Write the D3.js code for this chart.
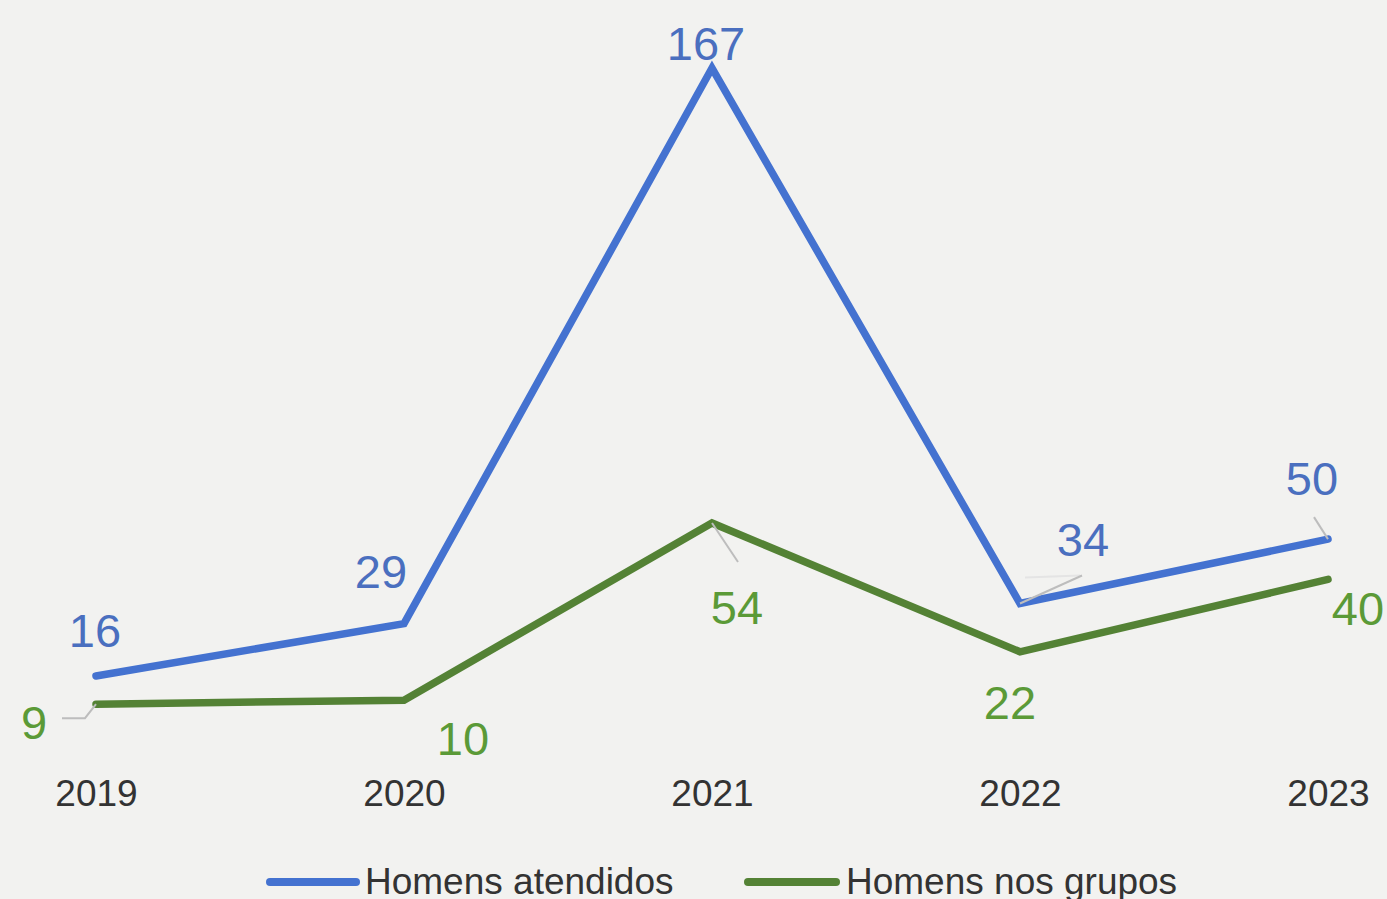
<!DOCTYPE html>
<html>
<head>
<meta charset="utf-8">
<script src="https://cdn.jsdelivr.net/npm/d3@7"></script>
<style>
  html, body { margin: 0; padding: 0; background: #f2f2f0; overflow: hidden; }
  svg { display: block; }
</style>
</head>
<body>
<svg id="chart" width="1387" height="899"></svg>
<script>
const years = ["2019", "2020", "2021", "2022", "2023"];
const atendidos = [16, 29, 167, 34, 50];
const grupos = [9, 10, 54, 22, 40];
const seriesNames = ["Homens atendidos", "Homens nos grupos"];

// label placement (pixel offsets from the point) and leader lines
const blueLabelOffsets = [[-1, -29], [-23, -36], [-6, -8], [63, -48], [-16, -44]];
const greenLabelOffsets = [[-62, 35], [59, 55], [25, 101], [-10, 67], [30, 46]];
const blueLeaders = [null, null, null, [[0, 0], [62, -28]], [[0, 0], [-14, -22]]];
const greenLeaders = [[[0, 0], [-11, 14], [-34, 14]], null, [[0, 0], [26, 39]], null, null];

const W = 1387, H = 899;
const svg = d3.select("#chart");
svg.append("rect").attr("width", W).attr("height", H).attr("fill", "#f2f2f0");

const x = d3.scalePoint().domain(years).range([96, 1328]);
const y = d3.scaleLinear().domain([0, 180]).range([740.4, 15.7]);

const FONT = "'Liberation Sans', Arial, sans-serif";
const blueLine = "#4472d0", greenLine = "#548235";
const blueText = "#4a6fbf", greenText = "#5b9a37";

// x axis labels
const xAxis = d3.axisBottom(x).tickSize(0).tickPadding(0);
const gx = svg.append("g").attr("transform", "translate(0,772)").call(xAxis);
gx.select(".domain").remove();
gx.selectAll("text")
  .attr("font-family", FONT).attr("font-size", 37).attr("fill", "#333")
  .attr("dy", "0.92em");

const line = d3.line().x((d, i) => x(years[i])).y(d => y(d));

function drawSeries(vals, color, textColor, offsets, leaders) {
  const g = svg.append("g");
  g.append("path").datum(vals)
    .attr("d", line).attr("fill", "none")
    .attr("stroke", color).attr("stroke-width", 7.5)
    .attr("stroke-linejoin", "miter").attr("stroke-linecap", "round");
  vals.forEach((v, i) => {
    const px = x(years[i]), py = y(v);
    if (leaders[i]) {
      g.append("polyline")
        .attr("points", leaders[i].map(p => [px + p[0], py + p[1]].join(",")).join(" "))
        .attr("fill", "none").attr("stroke", "#bdbdbd").attr("stroke-width", 2);
    }
    g.append("text")
      .attr("x", px + offsets[i][0]).attr("y", py + offsets[i][1])
      .attr("text-anchor", "middle")
      .attr("font-family", FONT).attr("font-size", 47)
      .attr("fill", textColor).text(v);
  });
}
// faint horizontal part of the 2022 leader
svg.append("line").attr("x1", x("2022") + 5).attr("x2", x("2022") + 60)
  .attr("y1", y(atendidos[3]) - 26).attr("y2", y(atendidos[3]) - 28)
  .attr("stroke", "#e4e4e4").attr("stroke-width", 2);
drawSeries(atendidos, blueLine, blueText, blueLabelOffsets, blueLeaders);
drawSeries(grupos, greenLine, greenText, greenLabelOffsets, greenLeaders);

// legend
const legendItems = [
  { name: seriesNames[0], color: blueLine, x1: 270, x2: 356, tx: 365 },
  { name: seriesNames[1], color: greenLine, x1: 748, x2: 836, tx: 846 }
];
const lg = svg.append("g");
legendItems.forEach(it => {
  lg.append("line").attr("x1", it.x1).attr("x2", it.x2).attr("y1", 882).attr("y2", 882)
    .attr("stroke", it.color).attr("stroke-width", 8).attr("stroke-linecap", "round");
  lg.append("text").attr("x", it.tx).attr("y", 894)
    .attr("font-family", FONT).attr("font-size", 37).attr("fill", "#333").text(it.name);
});
</script>
</body>
</html>
